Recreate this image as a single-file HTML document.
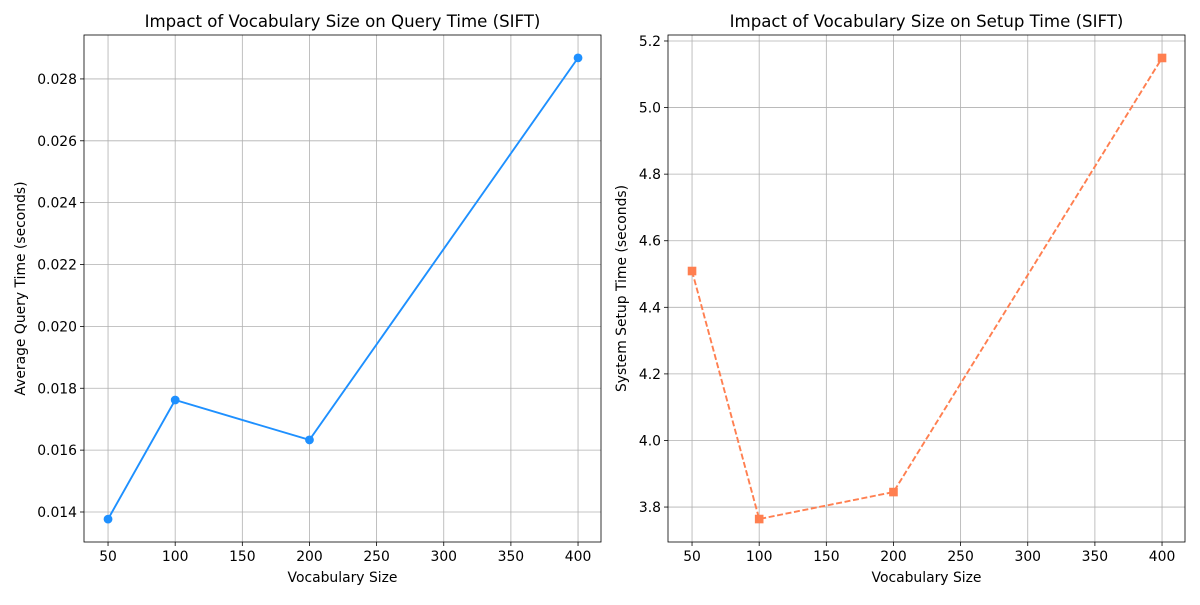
<!DOCTYPE html>
<html><head><meta charset="utf-8"><style>
body{margin:0;background:#fff;font-family:"Liberation Sans","DejaVu Sans",sans-serif}
</style></head><body>
<svg id="c" width="1200" height="600" xmlns="http://www.w3.org/2000/svg" font-family="DejaVu Sans, Liberation Sans, sans-serif"></svg>
<script>
const categories=[50,100,200,400];
const queryTimes=[0.01377,0.01762,0.01633,0.02868];
const setupTimes=[4.509,3.764,3.845,5.149];
const xTicks=[50,100,150,200,250,300,350,400];
const leftYTicks=[0.014,0.016,0.018,0.020,0.022,0.024,0.026,0.028];
const rightYTicks=[3.8,4.0,4.2,4.4,4.6,4.8,5.0,5.2];
const NS="http://www.w3.org/2000/svg";
const svg=document.getElementById('c');
function mk(t,a,p){const e=document.createElementNS(NS,t);for(const k in a)e.setAttribute(k,a[k]);(p||svg).appendChild(e);return e;}
function panel(o){
  const g=mk('g',{});
  
  
  const L=o.x0,R=o.x1,T=35,B=542;
  const sx=v=>L+(v-o.xmin)/(o.xmax-o.xmin)*(R-L);
  const sy=v=>B-(v-o.ymin)/(o.ymax-o.ymin)*(B-T);
  xTicks.forEach(v=>{const x=sx(v);
    const l=mk('line',{x1:x,x2:x,y1:T,y2:B,stroke:'#b0b0b0','stroke-width':0.8},g);
    
    mk('line',{x1:x,x2:x,y1:B,y2:B+4,stroke:'#000','stroke-width':0.8},g);
    const t=mk('text',{x:x,y:B+19,'font-size':13.9,'text-anchor':'middle'},g);t.textContent=v;
    });
  o.yt.forEach(v=>{const y=sy(v);
    const l=mk('line',{x1:L,x2:R,y1:y,y2:y,stroke:'#b0b0b0','stroke-width':0.8},g);
    
    mk('line',{x1:L-4,x2:L,y1:y,y2:y,stroke:'#000','stroke-width':0.8},g);
    const t=mk('text',{x:L-7,y:y+5,'font-size':13.9,'text-anchor':'end'},g);t.textContent=o.fmt(v);
    });
  const pts=categories.map((c,i)=>sx(c)+','+sy(o.vals[i])).join(' ');
  const pl=mk('polyline',{points:pts,fill:'none',stroke:o.color,'stroke-width':1.9,'stroke-dasharray':o.dash||'none'},g);
  
  categories.forEach((c,i)=>{const x=sx(c),y=sy(o.vals[i]);let m;
    if(o.square)m=mk('rect',{x:x-4.3,y:y-4.3,width:8.6,height:8.6,fill:o.color},g);
    else m=mk('circle',{cx:x,cy:y,r:4.4,fill:o.color},g);
    });
  const fr=mk('rect',{x:L,y:T,width:R-L,height:B-T,fill:'none',stroke:'#000','stroke-width':0.8},g);
  
  const tt=mk('text',{x:(L+R)/2,y:27,'font-size':16.6,'text-anchor':'middle'},g);tt.textContent=o.title;
  
  const xl=mk('text',{x:(L+R)/2,y:582,'font-size':13.9,'text-anchor':'middle'},g);xl.textContent='Vocabulary Size';
  
  const yl=mk('text',{x:o.ylx,y:(T+B)/2,'font-size':13.9,'text-anchor':'middle',transform:`rotate(-90 ${o.ylx} ${(T+B)/2})`},g);yl.textContent=o.ylabel;
  
}
panel({name:'query-time-panel',x0:84,x1:601,xmin:32.1,xmax:417.1,ymin:0.01303,ymax:0.02942,yt:leftYTicks,fmt:v=>v.toFixed(3),vals:queryTimes,color:'#1e90ff',title:'Impact of Vocabulary Size on Query Time (SIFT)',ylabel:'Average Query Time (seconds)',ylx:25});
panel({name:'setup-time-panel',x0:668,x1:1185,xmin:32.1,xmax:417.1,ymin:3.695,ymax:5.218,yt:rightYTicks,fmt:v=>v.toFixed(1),vals:setupTimes,color:'#ff7f50',dash:'6,2.6',square:true,title:'Impact of Vocabulary Size on Setup Time (SIFT)',ylabel:'System Setup Time (seconds)',ylx:626});
</script>
</body></html>
